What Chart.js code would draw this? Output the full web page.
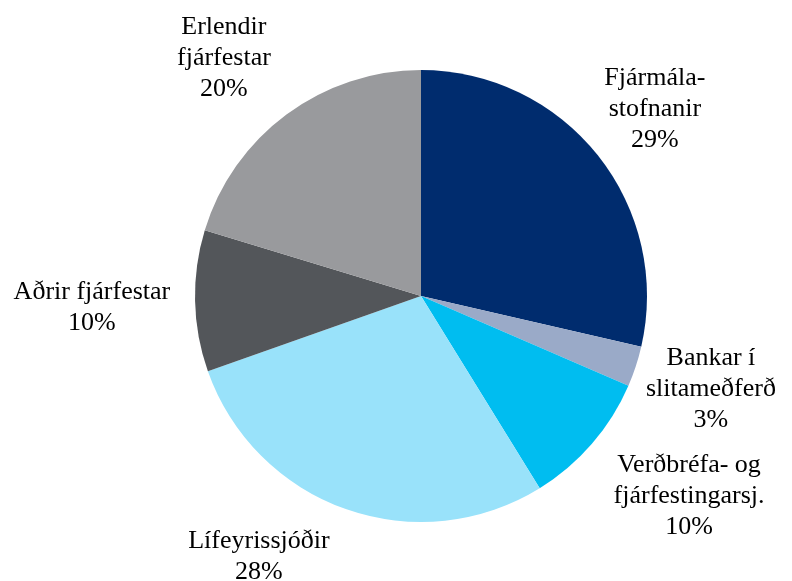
<!DOCTYPE html>
<html>
<head>
<meta charset="utf-8">
<script src="https://cdn.jsdelivr.net/npm/chart.js@4"></script>
<style>
  html, body { margin: 0; padding: 0; background: #fff; }
  #wrap { width: 792px; height: 581px; position: relative; }
  #c { position: absolute; left: 0; top: 0; }
  .lbl {
    position: absolute;
    font-family: "Liberation Serif", "Times New Roman", serif;
    font-size: 26px;
    line-height: 31px;
    color: #000;
    text-align: center;
    white-space: nowrap;
    transform: translate(-50%, -50%);
  }
</style>
</head>
<body>
<div id="wrap"><canvas id="c" width="792" height="581"></canvas></div>
<script>
// Data
const categories = ["Fjármálastofnanir", "Bankar í slitameðferð", "Verðbréfa- og fjárfestingarsj.", "Lífeyrissjóðir", "Aðrir fjárfestar", "Erlendir fjárfestar"];
const shares = [28.6, 2.9, 9.7, 28.4, 10.1, 20.3];
const labelLines = [
  ["Fjármála-", "stofnanir", "29%"],
  ["Bankar í", "slitameðferð", "3%"],
  ["Verðbréfa- og", "fjárfestingarsj.", "10%"],
  ["Lífeyrissjóðir", "28%"],
  ["Aðrir fjárfestar", "10%"],
  ["Erlendir", "fjárfestar", "20%"]
];
const colors = ["#002C6E", "#9AAAC8", "#00BDF0", "#99E2FA", "#53565A", "#999A9D"];

// Label placement, relative to pie centre, in units of the radius
const labelOffsets = [
  [1.035, -0.836],
  [1.283, 0.403],
  [1.186, 0.876],
  [-0.717, 1.146],
  [-1.456, 0.044],
  [-0.872, -1.062]
];

const labelPlugin = {
  id: 'pieLabels',
  afterRender(chart) {
    const wrap = document.getElementById('wrap');
    wrap.querySelectorAll('.lbl').forEach(e => e.remove());
    const arc0 = chart.getDatasetMeta(0).data[0];
    const cx = arc0.x, cy = arc0.y, r = arc0.outerRadius;
    labelLines.forEach((lines, i) => {
      const d = document.createElement('div');
      d.className = 'lbl';
      d.style.left = (cx + labelOffsets[i][0] * r) + 'px';
      d.style.top = (cy + labelOffsets[i][1] * r) + 'px';
      lines.forEach((t, j) => {
        if (j) d.appendChild(document.createElement('br'));
        d.appendChild(document.createTextNode(t));
      });
      wrap.appendChild(d);
    });
  }
};

new Chart(document.getElementById('c'), {
  type: 'pie',
  data: {
    labels: categories,
    datasets: [{
      data: shares,
      backgroundColor: colors,
      borderWidth: 0
    }]
  },
  options: {
    responsive: false,
    animation: false,
    layout: { padding: { top: 70, bottom: 59, left: 195, right: 145 } },
    plugins: { legend: { display: false }, tooltip: { enabled: false } }
  },
  plugins: [labelPlugin]
});
</script>
</body>
</html>
